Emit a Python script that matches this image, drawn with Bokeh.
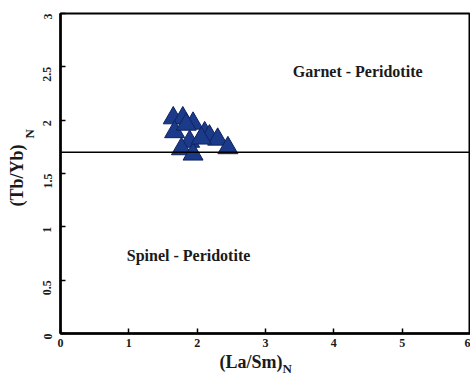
import math
from bokeh.plotting import figure
from bokeh.models import Label, Span, FixedTicker, Title
from bokeh.embed import file_html
from bokeh.resources import INLINE

# ---- data ----
la_sm = [1.65, 1.79, 1.94, 1.67, 1.84, 2.11, 2.18, 2.30, 1.89, 1.77, 1.94, 2.45, 2.06]
tb_yb = [2.02, 2.02, 1.97, 1.89, 1.96, 1.88, 1.85, 1.82, 1.80, 1.73, 1.68, 1.74, 1.83]
boundary = 1.7

x_ticks = [0, 1, 2, 3, 4, 5, 6]
x_tick_labels = ["0", "1", "2", "3", "4", "5", "6"]
y_ticks = [0, 0.5, 1, 1.5, 2, 2.5, 3]
y_tick_labels = ["0", "0.5", "1", "1.5", "2", "2.5", "3"]

x_title, x_sub = "(La/Sm)", "N"
y_title, y_sub = "(Tb/Yb)", "N"
field_labels = ["Garnet - Peridotite", "Spinel - Peridotite"]

FONT = "Liberation Serif"
INK = "#1a1a1a"

p = figure(width=470, height=376, x_range=(0, 6), y_range=(0, 3),
           output_backend="svg", toolbar_location=None,
           min_border_left=60, min_border_right=0, min_border_top=13, min_border_bottom=43)
p.background_fill_color = "white"
p.border_fill_color = "white"
p.outline_line_color = "black"
p.outline_line_width = 2
p.xgrid.visible = False
p.ygrid.visible = False

p.xaxis.ticker = FixedTicker(ticks=x_ticks)
p.yaxis.ticker = FixedTicker(ticks=y_ticks)
p.xaxis.major_label_overrides = dict(zip(x_ticks, x_tick_labels))
p.yaxis.major_label_overrides = dict(zip(y_ticks, y_tick_labels))
for ax in (p.xaxis, p.yaxis):
    ax.axis_line_width = 2.5
    ax.axis_line_color = "black"
    ax.major_tick_in = 5
    ax.major_tick_out = 0
    ax.major_tick_line_width = 1.5
    ax.minor_tick_line_color = None
    ax.major_label_text_font = FONT
    ax.major_label_text_font_style = "bold"
    ax.major_label_text_font_size = "12px"
    ax.major_label_text_color = INK
p.xaxis.major_label_standoff = 5
p.yaxis.major_label_standoff = 13
p.yaxis.major_label_orientation = math.pi / 2

p.add_layout(Span(location=boundary, dimension="width", line_color="black", line_width=1.5))

p.scatter(la_sm, tb_yb, marker="triangle", size=20,
          fill_color="#1c3a8a", line_color="#0f2360", line_width=1)

lab_kw = dict(text_font=FONT, text_font_style="bold", text_color=INK)
p.add_layout(Label(x=3.40, y=2.455, text=field_labels[0], text_baseline="middle",
                   text_font_size="16px", **lab_kw))
p.add_layout(Label(x=0.97, y=0.735, text=field_labels[1], text_baseline="middle",
                   text_font_size="16px", **lab_kw))

# axis titles with subscript N, as side-panel titles
p.add_layout(Title(text=x_title, align="left", vertical_align="bottom", offset=159, standoff=0,
                   text_font_size="18px", **lab_kw), "below")
p.add_layout(Title(text=x_sub, align="left", vertical_align="top", offset=222, standoff=-22,
                   text_font_size="13px", **lab_kw), "below")
p.add_layout(Title(text=y_sub, align="left", vertical_align="bottom", offset=195, standoff=0,
                   text_font_size="13px", **lab_kw), "left")
p.add_layout(Title(text=y_title, align="left", vertical_align="bottom", offset=127, standoff=-14,
                   text_font_size="18px", **lab_kw), "left")

open("out.html", "w").write(file_html(p, INLINE))
